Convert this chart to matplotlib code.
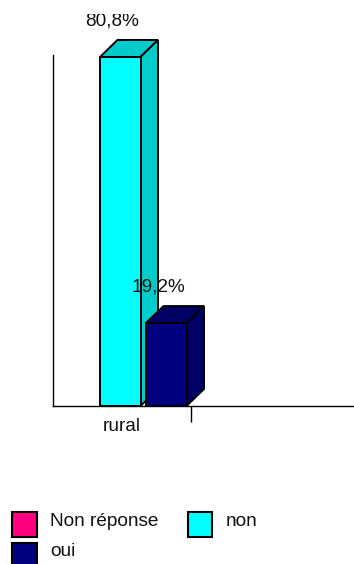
import matplotlib
matplotlib.use("Agg")
import matplotlib.pyplot as plt
from matplotlib.patches import Polygon, Rectangle
from matplotlib.transforms import Bbox

plt.rcParams['font.family'] = ['Liberation Sans', 'DejaVu Sans']

# === Données ===
categories = ['rural']
series_names = ['Non réponse', 'non', 'oui']
series_values = [0, 80.8, 19.2]
value_labels = ['', '80,8%', '19,2%']
front_colors = ['#FF0080', '#00FFFF', '#000080']
top_colors = ['#CC0066', '#00CCCC', '#000066']
side_colors = ['#CC0066', '#00CCCC', '#000066']

W, H = 354, 564
fs = 13.7
fig = plt.figure(figsize=(W / 100, H / 100), dpi=100)

# axes placed in pixels: x axis at y=406, y axis at x=53
left, right, top, bottom = 53, 354, 55, 406
ax = fig.add_axes([left / W, 1 - bottom / H, (right - left) / W, (bottom - top) / H])
px_per_cat = 138
px_per_pct = 4.32
ax.set_xlim(0, (right - left) / px_per_cat)
ax.set_ylim(0, (bottom - top) / px_per_pct)

for s in ['top', 'right']:
    ax.spines[s].set_visible(False)
for s in ['left', 'bottom']:
    ax.spines[s].set_linewidth(1.0)

ax.set_yticks([])
ax.set_xticks([1])
ax.set_xticklabels([''])
ax.tick_params(axis='x', which='major', length=11.5, width=1.0)
ax.set_xticks([0.5], minor=True)
ax.set_xticklabels(categories, minor=True, fontsize=fs, color='#111111')
ax.tick_params(axis='x', which='minor', length=0, pad=8.5)

# === Barres 3D ===
slot = 1 / 3
bar_w = 40.5 / px_per_cat
dx = 17.5 / px_per_cat
dy = 17 / px_per_pct
edge = 1.4
for i, (name, val) in enumerate(zip(series_names, series_values)):
    if val == 0:
        continue
    x0 = i * slot + 1 / px_per_cat
    x1 = x0 + bar_w
    ax.add_patch(Polygon([(x0, val), (x0 + dx, val + dy), (x1 + dx, val + dy), (x1, val)],
                         fc=top_colors[i], ec='black', lw=edge, clip_on=False, zorder=3 + i))
    ax.add_patch(Polygon([(x1, 0), (x1 + dx, dy), (x1 + dx, val + dy), (x1, val)],
                         fc=side_colors[i], ec='black', lw=edge, clip_on=False, zorder=3 + i))
    ax.bar(x0, val, width=bar_w, align='edge', color=front_colors[i], edgecolor='black',
           linewidth=edge, clip_on=False, zorder=3.5 + i)

# === Valeurs au-dessus des barres ===
# le libellé de la grande barre est coupé en haut dans l'original
for i, val in enumerate(series_values):
    if value_labels[i] == '':
        continue
    xc = i * slot + 13 / px_per_cat
    t = ax.text(xc, val + 36 / px_per_pct, value_labels[i], ha='center', va='center',
                fontsize=fs, color='#111111', zorder=10)
    t.set_clip_box(Bbox([[0, 0], [W, H - 13.5]]))
    t.set_clip_on(True)

# === Légende ===
def px_rect(x, y, w, h, color):
    fig.add_artist(Rectangle((x / W, 1 - (y + h) / H), w / W, h / H, transform=fig.transFigure,
                             fc=color, ec='black', lw=1.5))

def px_text(x, y, s):
    fig.text(x / W, 1 - y / H, s, ha='left', va='center', fontsize=fs, color='#111111')

legend_x = [12, 187.5, 12]
legend_y = [512, 512, 543]
legend_tx = [50, 226, 50]
legend_ty = [521, 521, 551.5]
for i, name in enumerate(series_names):
    px_rect(legend_x[i], legend_y[i], 24.5, 24.5, front_colors[i])
    px_text(legend_tx[i], legend_ty[i], name)

fig.savefig('out.png', dpi=100)
